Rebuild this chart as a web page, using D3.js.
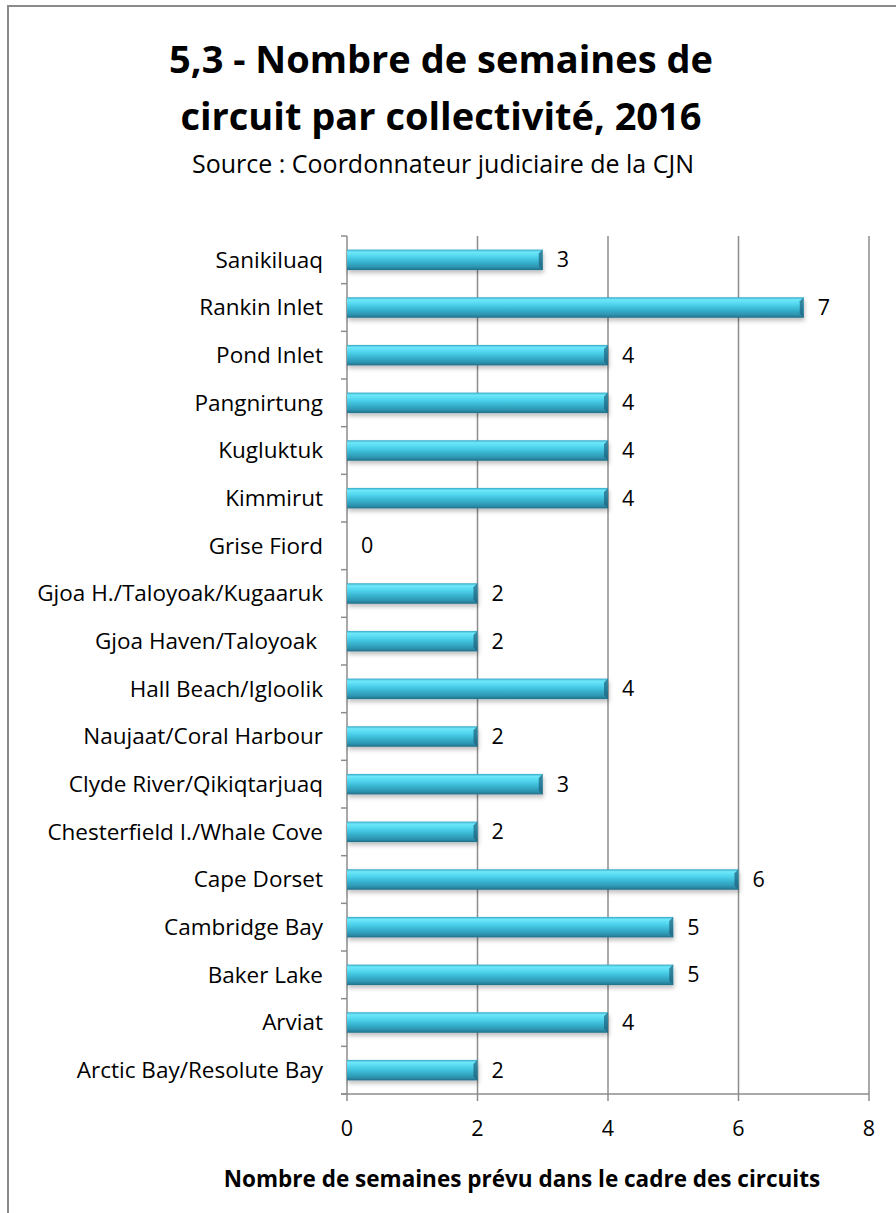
<!DOCTYPE html>
<html>
<head>
<meta charset="utf-8">
<script src="https://cdn.jsdelivr.net/npm/d3@7"></script>
<style>
  body { margin: 0; background: #fff; }
  svg { font-family: "Open Sans", "Noto Sans", sans-serif; }
</style>
</head>
<body>
<svg width="896" height="1213"></svg>
<script>
var svg = d3.select("svg"),
    width = +svg.attr("width"),
    height = +svg.attr("height");

// Data
var communities = ["Sanikiluaq", "Rankin Inlet", "Pond Inlet", "Pangnirtung", "Kugluktuk",
    "Kimmirut", "Grise Fiord", "Gjoa H./Taloyoak/Kugaaruk", "Gjoa Haven/Taloyoak ",
    "Hall Beach/Igloolik", "Naujaat/Coral Harbour", "Clyde River/Qikiqtarjuaq",
    "Chesterfield I./Whale Cove", "Cape Dorset", "Cambridge Bay", "Baker Lake",
    "Arviat", "Arctic Bay/Resolute Bay"];
var weeks = [3, 7, 4, 4, 4, 4, 0, 2, 2, 4, 2, 3, 2, 6, 5, 5, 4, 2];
var xTicks = [0, 2, 4, 6, 8];

var data = communities.map(function (c, i) { return {name: c, value: weeks[i]}; });

// Frame
svg.append("rect")
    .attr("x", 8).attr("y", 6)
    .attr("width", width + 10).attr("height", height + 10)
    .attr("fill", "#fff")
    .attr("stroke", "#8a8a8a")
    .attr("stroke-width", 2);

// Titles
svg.append("text")
    .attr("x", 441).attr("y", 73)
    .attr("text-anchor", "middle")
    .style("font-size", "38px").style("font-weight", "bold")
    .text("5,3 - Nombre de semaines de");
svg.append("text")
    .attr("x", 441).attr("y", 130)
    .attr("text-anchor", "middle")
    .style("font-size", "38px").style("font-weight", "bold")
    .text("circuit par collectivité, 2016");
svg.append("text")
    .attr("x", 443).attr("y", 173)
    .attr("text-anchor", "middle")
    .style("font-size", "25px")
    .text("Source : Coordonnateur judiciaire de la CJN");

// Scales
var margin = {left: 347, right: 869, top: 236, bottom: 1094};
var x = d3.scaleLinear().domain([0, 8]).range([margin.left, margin.right]);
var y = d3.scaleBand().domain(communities).range([margin.top, margin.bottom]).paddingInner(0.57).paddingOuter(0.285);
var yb = d3.scaleBand().domain(communities).range([margin.top, margin.bottom]);

// Gradient for bars
var defs = svg.append("defs");
var grad = defs.append("linearGradient")
    .attr("id", "barGrad")
    .attr("x1", 0).attr("y1", 0).attr("x2", 0).attr("y2", 1);
grad.append("stop").attr("offset", "0%").attr("stop-color", "#38a8c6");
grad.append("stop").attr("offset", "12%").attr("stop-color", "#6ee8fa");
grad.append("stop").attr("offset", "35%").attr("stop-color", "#4fd4ee");
grad.append("stop").attr("offset", "60%").attr("stop-color", "#38b4d0");
grad.append("stop").attr("offset", "85%").attr("stop-color", "#2d94b0");
grad.append("stop").attr("offset", "100%").attr("stop-color", "#226e88");
var shadow = defs.append("filter").attr("id", "shadow")
    .attr("x", "-5%").attr("y", "-30%").attr("width", "110%").attr("height", "180%");
shadow.append("feDropShadow")
    .attr("dx", 1).attr("dy", 3).attr("stdDeviation", 2)
    .attr("flood-color", "#000").attr("flood-opacity", 0.25);

// Gridlines
svg.append("g")
    .selectAll("line")
    .data(xTicks.slice(1))
    .enter().append("line")
        .attr("x1", function (d) { return x(d); })
        .attr("x2", function (d) { return x(d); })
        .attr("y1", margin.top)
        .attr("y2", margin.bottom)
        .attr("stroke", "#8c8c8c")
        .attr("stroke-width", 1.5);

// Y axis line with ticks between categories
svg.append("line")
    .attr("x1", x(0)).attr("x2", x(0))
    .attr("y1", margin.top).attr("y2", margin.bottom)
    .attr("stroke", "#8c8c8c").attr("stroke-width", 1.5);
var bounds = communities.map(function (c) { return yb(c); });
bounds.push(margin.bottom);
svg.append("g")
    .selectAll("line")
    .data(bounds)
    .enter().append("line")
        .attr("x1", x(0) - 6).attr("x2", x(0))
        .attr("y1", function (d) { return d; })
        .attr("y2", function (d) { return d; })
        .attr("stroke", "#8c8c8c").attr("stroke-width", 1.5);

// X axis
svg.append("line")
    .attr("x1", x(0) - 6).attr("x2", x(8))
    .attr("y1", margin.bottom).attr("y2", margin.bottom)
    .attr("stroke", "#8c8c8c").attr("stroke-width", 1.5);
svg.append("g")
    .selectAll("line")
    .data(xTicks)
    .enter().append("line")
        .attr("x1", function (d) { return x(d); })
        .attr("x2", function (d) { return x(d); })
        .attr("y1", margin.bottom).attr("y2", margin.bottom + 7)
        .attr("stroke", "#8c8c8c").attr("stroke-width", 1.5);
svg.append("g")
    .selectAll("text")
    .data(xTicks)
    .enter().append("text")
        .attr("x", function (d) { return x(d); })
        .attr("y", 1136)
        .attr("text-anchor", "middle")
        .style("font-size", "21.5px")
        .text(function (d) { return d; });

// Category labels
svg.append("g")
    .selectAll("text")
    .data(data)
    .enter().append("text")
        .attr("x", x(0) - 24)
        .attr("y", function (d) { return yb(d.name) + yb.bandwidth() / 2; })
        .attr("dy", "0.35em")
        .attr("text-anchor", "end")
        .style("font-size", "22.5px")
        .style("white-space", "pre")
        .text(function (d) { return d.name; });

// Bars
var bars = svg.append("g")
    .selectAll("g")
    .data(data.filter(function (d) { return d.value > 0; }))
    .enter().append("g");
bars.append("rect")
    .attr("x", x(0))
    .attr("y", function (d) { return y(d.name); })
    .attr("width", function (d) { return x(d.value) - x(0); })
    .attr("height", y.bandwidth())
    .attr("fill", "url(#barGrad)")
    .attr("filter", "url(#shadow)");
// bevel on right end
bars.append("path")
    .attr("d", function (d) {
        var x1 = x(d.value), y0 = y(d.name), h = y.bandwidth();
        return "M" + x1 + "," + y0 + "L" + (x1 - 4) + "," + (y0 + 4) +
            "L" + (x1 - 4) + "," + (y0 + h - 4) + "L" + x1 + "," + (y0 + h) + "Z";
    })
    .attr("fill", "#1f5f7a")
    .attr("opacity", 0.7);

// Value labels
svg.append("g")
    .selectAll("text")
    .data(data)
    .enter().append("text")
        .attr("x", function (d) { return x(d.value) + 14; })
        .attr("y", function (d) { return yb(d.name) + yb.bandwidth() / 2; })
        .attr("dy", "0.35em")
        .style("font-size", "21.5px")
        .text(function (d) { return d.value; });

// Axis title
svg.append("text")
    .attr("x", 522).attr("y", 1187)
    .attr("text-anchor", "middle")
    .style("font-size", "22.5px").style("font-weight", "bold")
    .text("Nombre de semaines prévu dans le cadre des circuits");
</script>
</body>
</html>
